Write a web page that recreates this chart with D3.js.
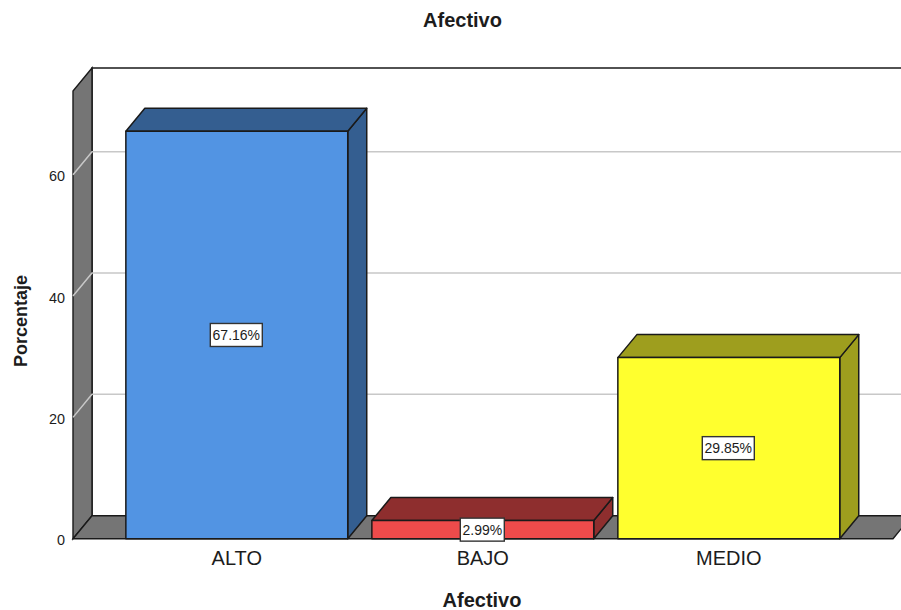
<!DOCTYPE html>
<html>
<head>
<meta charset="utf-8">
<script src="https://cdn.jsdelivr.net/npm/d3@7"></script>
<style>
html,body{margin:0;padding:0;background:#fff;overflow:hidden}
svg{display:block}
text{font-family:"Liberation Sans",Arial,sans-serif;fill:#1c1c1c}
</style>
</head>
<body>
<div id="chart"></div>
<script>
const categories = ["ALTO", "BAJO", "MEDIO"];
const values = [67.16, 2.99, 29.85];
const yTicks = [0, 20, 40, 60];
const chartTitle = "Afectivo";
const xTitle = "Afectivo";
const yTitle = "Porcentaje";
const frontColors = ["#5294e3", "#ee4b4b", "#ffff2e"];
const sideColors = ["#345e90", "#8e2e2e", "#9e9e1e"];

const W = 901, H = 610;
const dx = 19, dy = -23;
const svg = d3.select("#chart").append("svg").attr("width", W).attr("height", H);

const x = d3.scaleBand().domain(categories).range([113.8, 851.8]).paddingInner(0.098).paddingOuter(0.049);
const y = d3.scaleLinear().domain([0, 60]).range([538.7, 174.7]);
const yMax = y.invert(91);
const ink = "#1a1a1a";
const poly = pts => d3.line()(pts);
const floorRight = 893;

// Back wall + top border
svg.append("path").attr("d", poly([[73 + dx, y(0) + dy], [73 + dx, y(yMax) + dy], [W + 5, y(yMax) + dy]]))
  .attr("fill", "none").attr("stroke", ink).attr("stroke-width", 1.6);

// Left wall
svg.append("path").attr("d", poly([[73, y(0)], [73, y(yMax)], [73 + dx, y(yMax) + dy], [73 + dx, y(0) + dy]]) + "Z")
  .attr("fill", "#757575").attr("stroke", ink).attr("stroke-width", 1.4);

// Floor
svg.append("path").attr("d", poly([[73, y(0)], [73 + dx, y(0) + dy], [floorRight + dx, y(0) + dy], [floorRight, y(0)]]) + "Z")
  .attr("fill", "#757575").attr("stroke", ink).attr("stroke-width", 1.4);

// Grid lines on wall and back plane
const grid = svg.append("g");
yTicks.filter(t => t > 0).forEach(t => {
  grid.append("path").attr("d", poly([[73, y(t)], [73 + dx, y(t) + dy], [W + 5, y(t) + dy]]))
    .attr("fill", "none").attr("stroke", "#c8c8c8").attr("stroke-width", 1.5);
});

// Bars
const bars = svg.selectAll("g.bar").data(categories).join("g").attr("class", "bar");
bars.each(function (c, i) {
  const g = d3.select(this);
  const l = x(c), r = l + x.bandwidth(), t = y(values[i]), b = y(0);
  const edge = { stroke: ink, "stroke-width": 1.5, "stroke-linejoin": "round" };
  const add = (pts, fill) => {
    const p = g.append("path").attr("d", poly(pts) + "Z").attr("fill", fill);
    Object.entries(edge).forEach(([k, v]) => p.attr(k, v));
  };
  add([[r, b], [r, t], [r + dx, t + dy], [r + dx, b + dy]], sideColors[i]);
  add([[l, t], [l + dx, t + dy], [r + dx, t + dy], [r, t]], sideColors[i]);
  add([[l, b], [l, t], [r, t], [r, b]], frontColors[i]);
});

// Value labels
const fmt = d3.format(".2f");
const boxW = v => (v < 10 ? 44 : 52);
const labels = svg.selectAll("g.val").data(categories).join("g").attr("class", "val")
  .attr("transform", (c, i) => `translate(${x(c) + x.bandwidth() / 2 - 0.5},${(y(values[i]) + y(0)) / 2})`);
labels.append("rect")
  .attr("x", (c, i) => -boxW(values[i]) / 2).attr("y", -11.5)
  .attr("width", (c, i) => boxW(values[i])).attr("height", 23)
  .attr("fill", "#fff").attr("stroke", "#333").attr("stroke-width", 1.4);
labels.append("text").attr("text-anchor", "middle").attr("dy", "0.36em")
  .attr("font-size", 14).text((c, i) => fmt(values[i]) + "%");

// Axes
const yAxis = svg.append("g").attr("transform", "translate(73,1.5)")
  .call(d3.axisLeft(y).tickValues(yTicks).tickSize(0).tickPadding(8).tickFormat(d3.format("d")));
yAxis.select(".domain").remove();
yAxis.selectAll("text").attr("font-size", 14.4).attr("fill", "#1c1c1c").attr("font-family", '"Liberation Sans",Arial,sans-serif');

const xAxis = svg.append("g").attr("transform", `translate(0,${y(0)})`)
  .call(d3.axisBottom(x).tickSize(0).tickPadding(12));
xAxis.select(".domain").remove();
xAxis.selectAll("text").attr("font-size", 20).attr("fill", "#333").attr("font-family", '"Liberation Sans",Arial,sans-serif');

// Titles
svg.append("text").attr("x", 462.5).attr("y", 27).attr("text-anchor", "middle")
  .attr("font-size", 20).attr("font-weight", "bold").text(chartTitle);
svg.append("text").attr("x", 482).attr("y", 607).attr("text-anchor", "middle")
  .attr("font-size", 20).attr("font-weight", "bold").text(xTitle);
svg.append("text").attr("transform", "translate(26.5,321) rotate(-90)").attr("text-anchor", "middle")
  .attr("font-size", 18).attr("font-weight", "bold").text(yTitle);
</script>
</body>
</html>
